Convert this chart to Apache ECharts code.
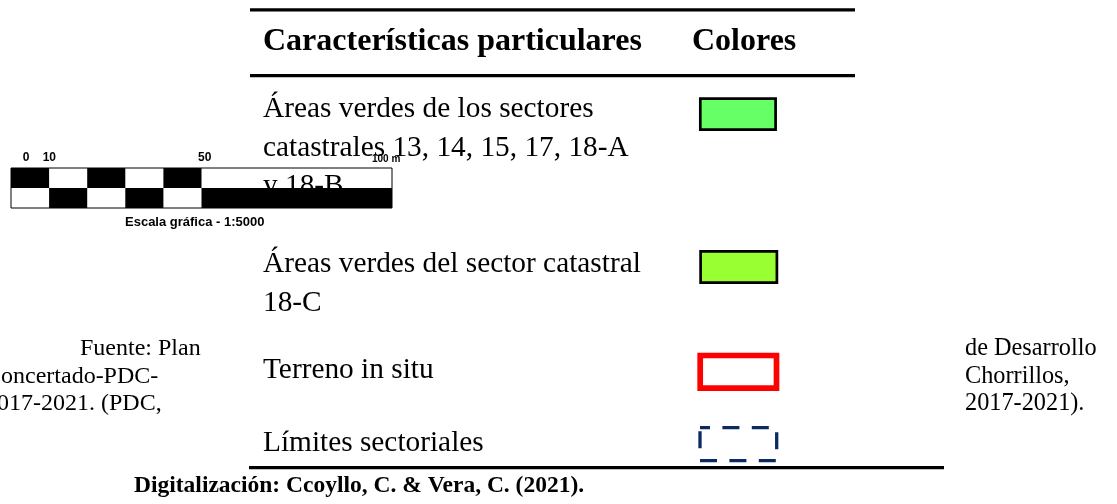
<!DOCTYPE html>
<html>
<head>
<meta charset="utf-8">
<script src="https://cdn.jsdelivr.net/npm/echarts@6/dist/echarts.min.js"></script>
<style>
html,body{margin:0;padding:0;background:#fff;}
#c{width:1117px;height:504px;}
</style>
</head>
<body>
<div id="c"></div>
<script>
// ---- data ----
const headers = ['Características particulares', 'Colores'];
const rowLabels = [
  ['Áreas verdes de los sectores', 'catastrales 13, 14, 15, 17, 18-A', 'y 18-B'],
  ['Áreas verdes del sector catastral', '18-C'],
  ['Terreno in situ'],
  ['Límites sectoriales']
];
const swatchFill = ['#66FF66', '#99FF33', 'transparent', 'transparent'];
const swatchStroke = ['#000000', '#000000', '#FF0000', '#0C2A62'];
const scaleEdges = [0, 10, 20, 30, 40, 50, 100];       // metres
const scaleTopBlack = [true, false, true, false, true, false];
const scaleTickLabels = ['0', '10', '50', '100 m'];
const scaleTitle = 'Escala gráfica - 1:5000';
const leftText = ['Fuente: Plan', 'Concertado-PDC-', '2017-2021. (PDC,'];
const rightText = ['de Desarrollo', 'Chorrillos,', '2017-2021).'];
const footer = 'Digitalización: Ccoyllo, C. & Vera, C. (2021).';

// ---- build ----
const SERIF = '"Liberation Serif", "Times New Roman", serif';
const SANS = '"Liberation Sans", Arial, sans-serif';
function txt(s, x, baseline, size, weight, family, z) {
  return {
    type: 'text', z: z || 1,
    x: x, y: baseline - 0.3375 * size,
    style: {
      text: s, fill: '#000',
      font: (weight || 'normal') + ' ' + size + 'px ' + (family || SERIF),
      align: 'left', verticalAlign: 'middle'
    }
  };
}
const g = [];
// table rules
g.push({type: 'rect', shape: {x: 250, y: 8.3, width: 605, height: 3.3}, style: {fill: '#000'}});
g.push({type: 'rect', shape: {x: 250, y: 74, width: 605, height: 3.3}, style: {fill: '#000'}});
g.push({type: 'rect', shape: {x: 249, y: 466, width: 695, height: 3.3}, style: {fill: '#000'}});
// headers
g.push(txt(headers[0], 263, 53, 32, 'bold'));
g.push(txt(headers[1], 692, 53, 32, 'bold'));
// row labels
const rowBaselines = [[119, 158, 196.5], [274, 313], [380], [453]];
rowLabels.forEach((lines, i) => {
  lines.forEach((l, j) => g.push(txt(l, 263, rowBaselines[i][j], 29.33)));
});
// swatches
const swatchBoxes = [
  {x: 700.3, y: 98.7, width: 75.3, height: 31, lw: 2.7},
  {x: 700.6, y: 251.3, width: 76.3, height: 31.4, lw: 2.7},
  {x: 700.2, y: 355.5, width: 76.3, height: 32.6, lw: 5.7},
  {x: 700, y: 427.7, width: 76.7, height: 33, lw: 3.3}
];
swatchBoxes.forEach((b, i) => {
  const st = {fill: swatchFill[i], stroke: swatchStroke[i], lineWidth: b.lw};
  if (i === 3) { st.lineDash = [17, 12.4]; st.lineDashOffset = 7; }
  g.push({type: 'rect', z: 1, shape: {x: b.x, y: b.y, width: b.width, height: b.height}, style: st});
});
// side paragraph
const paraBaselines = [357, 384.6, 412];
leftText.forEach((l, i) => g.push(txt(l, i === 0 ? 80 : -15, paraBaselines[i], 24)));
rightText.forEach((l, i) => g.push(txt(l, 965, paraBaselines[i], 24.3)));
g.push(txt(footer, 134, 494, 23.5, 'bold'));
// scale labels
const scaleLabelX = [22.7, 42.7, 198, 372];
scaleTickLabels.forEach((l, i) => g.push(txt(l, scaleLabelX[i], i === 3 ? 163 : 161.7, i === 3 ? 10 : 12, 'bold', SANS, 10)));
g.push(txt(scaleTitle, 125, 227, 13, 'bold', SANS, 10));

// scale bar cells
const cells = [];
for (let i = 0; i < scaleEdges.length - 1; i++) {
  cells.push([scaleEdges[i], scaleEdges[i + 1], scaleTopBlack[i] ? 0 : 1]);
}

const chart = echarts.init(document.getElementById('c'), null, {renderer: 'canvas'});
chart.setOption({
  animation: false,
  backgroundColor: '#ffffff',
  grid: {left: 11, top: 168, width: 381, height: 40, show: true, borderColor: '#000', borderWidth: 1, backgroundColor: 'transparent', z: 3},
  xAxis: {type: 'value', min: 0, max: 100, show: false},
  yAxis: {type: 'value', min: 0, max: 2, inverse: true, show: false},
  series: [{
    type: 'custom',
    z: 2,
    data: cells,
    encode: {x: [0, 1], y: 2},
    renderItem: function (params, api) {
      const p0 = api.coord([api.value(0), api.value(2)]);
      const p1 = api.coord([api.value(1), api.value(2) + 1]);
      return {
        type: 'rect',
        shape: {x: p0[0], y: p0[1], width: p1[0] - p0[0], height: p1[1] - p0[1]},
        style: {fill: '#000'}
      };
    }
  }],
  graphic: g
});
</script>
</body>
</html>
